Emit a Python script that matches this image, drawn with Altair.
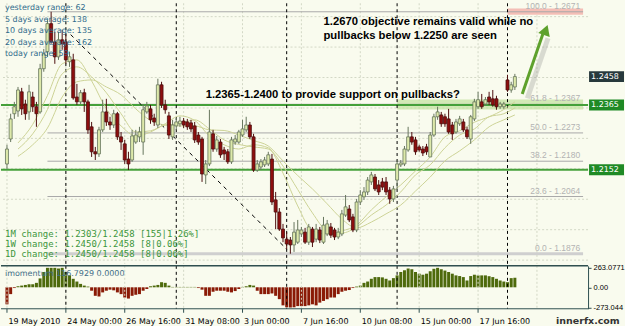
import json
import altair as alt
import pandas as pd

# ---------------- data ----------------
opens = [1.2171, 1.2253, 1.2336, 1.2345, 1.2408, 1.2368, 1.2342, 1.2391, 1.2359, 1.2342,
         1.2484, 1.2540, 1.2632, 1.2572, 1.2523, 1.2579, 1.2572, 1.2507, 1.2513, 1.2391,
         1.2375, 1.2405, 1.2375, 1.2293, 1.2211, 1.2204, 1.2283, 1.2342, 1.2309, 1.2299,
         1.2336, 1.2260, 1.2237, 1.2187, 1.2184, 1.2243, 1.2260, 1.2243, 1.2342, 1.2352,
         1.2322, 1.2299, 1.2431, 1.2365, 1.2329, 1.2260, 1.2296, 1.2303, 1.2312, 1.2309,
         1.2306, 1.2296, 1.2266, 1.2253, 1.2135, 1.2171, 1.2270, 1.2220, 1.2243, 1.2217,
         1.2211, 1.2178, 1.2243, 1.2243, 1.2266, 1.2283, 1.2299, 1.2260, 1.2151, 1.2161,
         1.2168, 1.2171, 1.2187, 1.2053, 1.2013, 1.1957, 1.1924, 1.1921, 1.1905, 1.1914,
         1.1941, 1.1947, 1.1914, 1.1957, 1.1924, 1.1954, 1.1914, 1.1941, 1.1964, 1.1954,
         1.1931, 1.1941, 1.2003, 1.2023, 1.1997, 1.1954, 1.2046, 1.2063, 1.2079, 1.2112,
         1.2128, 1.2102, 1.2112, 1.2112, 1.2085, 1.2056, 1.2118, 1.2168, 1.2171, 1.2217,
         1.2260, 1.2250, 1.2227, 1.2220, 1.2227, 1.2194, 1.2266, 1.2326, 1.2332, 1.2326,
         1.2319, 1.2299, 1.2276, 1.2303, 1.2309, 1.2283, 1.2253, 1.2319, 1.2359, 1.2375,
         1.2368, 1.2391, 1.2385, 1.2385, 1.2359, 1.2359, 1.2447, 1.2414, 1.2424]
highs = [1.2234, 1.2336, 1.2375, 1.2424, 1.2421, 1.2382, 1.2431, 1.2408, 1.2375, 1.2500,
         1.2549, 1.2645, 1.2671, 1.2605, 1.2605, 1.2612, 1.2599, 1.2540, 1.2533, 1.2434,
         1.2414, 1.2418, 1.2382, 1.2309, 1.2227, 1.2293, 1.2382, 1.2385, 1.2326, 1.2349,
         1.2342, 1.2276, 1.2250, 1.2211, 1.2283, 1.2283, 1.2293, 1.2368, 1.2375, 1.2365,
         1.2336, 1.2451, 1.2441, 1.2382, 1.2342, 1.2316, 1.2322, 1.2326, 1.2322, 1.2319,
         1.2316, 1.2309, 1.2276, 1.2260, 1.2184, 1.2349, 1.2283, 1.2263, 1.2253, 1.2227,
         1.2220, 1.2260, 1.2266, 1.2283, 1.2316, 1.2326, 1.2309, 1.2270, 1.2184, 1.2187,
         1.2194, 1.2211, 1.2204, 1.2079, 1.2026, 1.1974, 1.1947, 1.1931, 1.1980, 1.1987,
         1.1964, 1.1961, 1.1974, 1.1964, 1.1974, 1.1964, 1.1997, 1.1987, 1.1977, 1.1961,
         1.1961, 1.2020, 1.2069, 1.2036, 1.2007, 1.2056, 1.2085, 1.2095, 1.2128, 1.2145,
         1.2138, 1.2118, 1.2125, 1.2128, 1.2095, 1.2099, 1.2184, 1.2184, 1.2230, 1.2293,
         1.2276, 1.2260, 1.2234, 1.2230, 1.2237, 1.2276, 1.2336, 1.2359, 1.2342, 1.2336,
         1.2352, 1.2309, 1.2319, 1.2329, 1.2319, 1.2293, 1.2332, 1.2385, 1.2408, 1.2401,
         1.2391, 1.2408, 1.2414, 1.2395, 1.2375, 1.2375, 1.2464, 1.2441, 1.2467]
lows = [1.2155, 1.2243, 1.2319, 1.2326, 1.2332, 1.2316, 1.2316, 1.2342, 1.2293, 1.2336,
        1.2474, 1.2523, 1.2566, 1.2500, 1.2513, 1.2546, 1.2500, 1.2490, 1.2382, 1.2365,
        1.2368, 1.2342, 1.2270, 1.2194, 1.2184, 1.2194, 1.2276, 1.2296, 1.2283, 1.2289,
        1.2250, 1.2217, 1.2171, 1.2151, 1.2178, 1.2237, 1.2243, 1.2201, 1.2336, 1.2303,
        1.2296, 1.2289, 1.2355, 1.2336, 1.2253, 1.2250, 1.2283, 1.2293, 1.2289, 1.2283,
        1.2276, 1.2240, 1.2234, 1.2112, 1.2105, 1.2164, 1.2211, 1.2211, 1.2191, 1.2184,
        1.2171, 1.2171, 1.2234, 1.2237, 1.2260, 1.2276, 1.2253, 1.2145, 1.2145, 1.2151,
        1.2161, 1.2164, 1.2036, 1.1957, 1.1951, 1.1914, 1.1891, 1.1876, 1.1882, 1.1908,
        1.1931, 1.1908, 1.1905, 1.1898, 1.1914, 1.1911, 1.1908, 1.1934, 1.1928, 1.1921,
        1.1924, 1.1934, 1.1997, 1.1980, 1.1947, 1.1947, 1.2036, 1.2053, 1.2069, 1.2102,
        1.2082, 1.2069, 1.2085, 1.2069, 1.2040, 1.2046, 1.2085, 1.2161, 1.2164, 1.2211,
        1.2234, 1.2201, 1.2211, 1.2197, 1.2201, 1.2194, 1.2260, 1.2316, 1.2293, 1.2293,
        1.2270, 1.2250, 1.2270, 1.2296, 1.2276, 1.2253, 1.2237, 1.2312, 1.2352, 1.2352,
        1.2362, 1.2365, 1.2359, 1.2349, 1.2352, 1.2352, 1.2408, 1.2405, 1.2414]
closes = [1.2220, 1.2319, 1.2359, 1.2414, 1.2352, 1.2336, 1.2408, 1.2359, 1.2336, 1.2484,
          1.2533, 1.2632, 1.2572, 1.2523, 1.2579, 1.2566, 1.2513, 1.2523, 1.2388, 1.2375,
          1.2405, 1.2375, 1.2283, 1.2211, 1.2204, 1.2283, 1.2342, 1.2309, 1.2299, 1.2336,
          1.2260, 1.2243, 1.2184, 1.2171, 1.2263, 1.2266, 1.2276, 1.2349, 1.2362, 1.2316,
          1.2309, 1.2431, 1.2365, 1.2349, 1.2266, 1.2299, 1.2309, 1.2312, 1.2299, 1.2293,
          1.2286, 1.2250, 1.2243, 1.2138, 1.2171, 1.2276, 1.2220, 1.2250, 1.2201, 1.2204,
          1.2178, 1.2250, 1.2253, 1.2276, 1.2286, 1.2299, 1.2260, 1.2151, 1.2171, 1.2178,
          1.2184, 1.2201, 1.2046, 1.2013, 1.1957, 1.1928, 1.1908, 1.1905, 1.1947, 1.1954,
          1.1954, 1.1914, 1.1964, 1.1914, 1.1957, 1.1921, 1.1970, 1.1974, 1.1937, 1.1931,
          1.1947, 1.2007, 1.2030, 1.1987, 1.1954, 1.2046, 1.2069, 1.2079, 1.2118, 1.2135,
          1.2089, 1.2079, 1.2095, 1.2079, 1.2056, 1.2089, 1.2171, 1.2174, 1.2220, 1.2260,
          1.2243, 1.2211, 1.2217, 1.2207, 1.2211, 1.2266, 1.2326, 1.2342, 1.2303, 1.2303,
          1.2276, 1.2270, 1.2309, 1.2319, 1.2283, 1.2260, 1.2326, 1.2375, 1.2382, 1.2359,
          1.2382, 1.2375, 1.2365, 1.2359, 1.2368, 1.2368, 1.2414, 1.2431, 1.2458]
momentum = [-230, -92, -10, 14, 23, 32, 41, 41, 60, 120,
            207, 263, 263, 263, 254, 263, 207, 161, 115, 78,
            46, 23, 10, -46, -115, -124, -69, -46, -32, -41,
            -69, -92, -138, -152, -115, -101, -92, -46, -23, 14,
            23, 32, 69, 60, 23, 5, 5, 5, 5, 5,
            5, 5, -10, -32, -115, -115, -60, -46, -46, -46,
            -60, -69, -51, -23, 5, 14, 32, 23, -46, -92,
            -92, -92, -83, -115, -160, -244, -270, -273, -270, -254,
            -254, -254, -244, -230, -244, -207, -184, -161, -138, -138,
            -92, -60, -46, -37, -10, 10, 23, 60, 78, 115,
            138, 138, 134, 115, 92, 124, 161, 207, 230, 254,
            244, 207, 184, 170, 184, 217, 250, 263, 244, 226,
            207, 184, 161, 152, 138, 92, 152, 170, 161, 161,
            161, 150, 138, 115, 92, 78, 69, 124, 129]
ma_idx = [3, 7, 11, 15, 19, 23, 27, 31, 35, 39, 43, 47, 51, 55, 59, 63, 67, 71, 75, 79,
          83, 87, 91, 95, 99, 103, 107, 111, 115, 119, 123, 127, 131, 135, 138]
ma_fast = [1.2240, 1.2301, 1.2396, 1.2500, 1.2513, 1.2444, 1.2352, 1.2296, 1.2263, 1.2276,
           1.2303, 1.2329, 1.2314, 1.2263, 1.2234, 1.2220, 1.2234, 1.2224, 1.2141, 1.2033,
           1.1951, 1.1941, 1.1951, 1.1970, 1.2020, 1.2063, 1.2102, 1.2148, 1.2194, 1.2260,
           1.2280, 1.2308, 1.2326, 1.2350, 1.2375]
ma_mid = [1.2220, 1.2270, 1.2350, 1.2467, 1.2490, 1.2457, 1.2405, 1.2336, 1.2276, 1.2280,
          1.2299, 1.2303, 1.2316, 1.2286, 1.2250, 1.2235, 1.2227, 1.2220, 1.2164, 1.2087,
          1.2010, 1.1952, 1.1944, 1.1964, 1.2003, 1.2036, 1.2079, 1.2135, 1.2168, 1.2224,
          1.2266, 1.2286, 1.2326, 1.2336, 1.2355]
ma_slow = [1.2196, 1.2234, 1.2289, 1.2391, 1.2441, 1.2447, 1.2424, 1.2398, 1.2352, 1.2314,
           1.2299, 1.2296, 1.2296, 1.2283, 1.2281, 1.2266, 1.2248, 1.2230, 1.2181, 1.2133,
           1.2089, 1.2040, 1.1990, 1.1961, 1.1980, 1.2007, 1.2036, 1.2082, 1.2128, 1.2181,
           1.2214, 1.2250, 1.2293, 1.2316, 1.2332]

tick_prices = [1.2655, 1.2555, 1.2455, 1.2355, 1.2255, 1.2155, 1.2055, 1.1955, 1.1855]
time_tick_idx = [0, 16, 32, 48, 64, 80, 96, 112, 128]
time_tick_labels = ["19 May 2010", "24 May 00:00", "26 May 16:00", "31 May 08:00", "3 Jun 00:00",
                    "7 Jun 16:00", "10 Jun 08:00", "15 Jun 00:00", "17 Jun 16:00"]
grid_idx = [0, 16, 32, 48, 64, 80, 96, 112, 128, 144]
week_idx = [16, 46, 76, 106, 136]
fib_pct = ["100.0", "61.8", "50.0", "38.2", "23.6", "0.0"]
fib_levels = [1.2671, 1.2367, 1.2273, 1.2180, 1.2064, 1.1876]
fib_start = 11
support_levels = [1.2365, 1.2152]
current_price = 1.2458
trend_idx = [17.3, 76.0]
trend_price = [1.2596, 1.1891]
arrow_idx = [140.0, 145.6]
arrow_price = [1.2401, 1.2598]
target_zone = [1.2661, 1.2682]
support_zone = [1.2350, 1.2383]
target_zone_start = 136
support_zone_start = 106
mom_ticks = [263.0771, 0.0, -273.044]
mom_tick_labels = ["263.0771", "0.00", "-273.044"]
info_lines = ["yesterday range: 62", "5 days average: 138", "10 days average: 135",
              "20 days average: 162", "today range: 59"]
change_lines = ["1M change: 1.2303/1.2458 [155|1.26%]",
                "1W change: 1.2450/1.2458 [8|0.06%]",
                "1D change: 1.2450/1.2458 [8|0.06%]"]
note_lines = ["1.2670 objective remains valid while no", "pullbacks below 1.2250 are seen"]
note_support = "1.2365-1.2400 to provide support on pullbacks?"
mom_title = "imomentum 116.7929 0.0000"
brand = "innerfx.com"

# ---------------- styles ----------------
FONT = "DejaVu Sans"
BG = "#f9fbee"
GRID = "#d3d8c6"
UP_FILL, UP_LINE = "#dde9aa", "#66755c"
DN_FILL, DN_LINE = "#8e0e0e", "#4d0f0f"
MA_COL = "#cdd397"
GREEN = "#45a03a"
FIB = "#a9a9a9"
DARK = "#2f4f4f"

X0, X1 = -0.267, 156.53
xs = alt.Scale(domain=[X0, X1], nice=False, zero=False)
ys = alt.Scale(domain=[1.18428, 1.2699], nice=False, zero=False)
ms = alt.Scale(domain=[-290, 290], nice=False, zero=False)

candles = pd.DataFrame({"i": list(range(len(opens))), "open": opens, "high": highs,
                        "low": lows, "close": closes})
mom_df = pd.DataFrame({"i": list(range(len(momentum))), "v": momentum})
ma_df = pd.DataFrame({
    "i": ma_idx * 3,
    "p": ma_fast + ma_mid + ma_slow,
    "ma": ["fast"] * len(ma_idx) + ["mid"] * len(ma_idx) + ["slow"] * len(ma_idx),
})
fib_df = pd.DataFrame({"lvl": fib_levels, "start": [fib_start] * len(fib_levels),
                       "end": [X1] * len(fib_levels), "lx": [X1 - 0.8] * len(fib_levels),
                       "lbl": [f"{n} - {v:.4f}" for n, v in zip(fib_pct, fib_levels)]})
time_df = pd.DataFrame({"i": time_tick_idx, "lbl": time_tick_labels})


def xq(f, axis=None):
    return alt.X(f, type="quantitative", scale=xs, axis=axis)


def yq(f, axis=None):
    return alt.Y(f, type="quantitative", scale=ys, axis=axis)


price_axis = alt.Axis(orient="right", values=tick_prices, format=".4f", title=None, grid=False,
                      labelFont=FONT, labelFontSize=8, labelColor="#000", tickSize=4,
                      tickColor=DARK, domainColor=DARK, labelPadding=3, labelOverlap=False,
                      labelFlush=False)

hgrid = alt.Chart(pd.DataFrame({"p": tick_prices})).mark_rule(
    color=GRID, strokeDash=[2, 2], strokeWidth=1).encode(y=yq("p", price_axis))
vgrid = alt.Chart(pd.DataFrame({"i": grid_idx})).mark_rule(
    color=GRID, strokeDash=[2, 2], strokeWidth=1).encode(x=xq("i"))

zone_t = alt.Chart(pd.DataFrame({"a": [target_zone_start], "b": [X1],
                                 "lo": [target_zone[0]], "hi": [target_zone[1]]})).mark_rect(
    color="#f3b3ab", opacity=0.85).encode(x=xq("a"), x2="b", y=yq("lo"), y2="hi")
zone_s = alt.Chart(pd.DataFrame({"a": [support_zone_start], "b": [X1],
                                 "lo": [support_zone[0]], "hi": [support_zone[1]]})).mark_rect(
    color="#c4e3a2", opacity=0.75).encode(x=xq("a"), x2="b", y=yq("lo"), y2="hi")

fib_main = alt.Chart(fib_df).transform_filter("datum.lvl > 1.19").mark_rule(
    color=FIB, strokeWidth=1).encode(x=xq("start"), x2="end", y=yq("lvl"))
fib_zero = alt.Chart(fib_df).transform_filter("datum.lvl < 1.19").mark_rule(
    color="#cfcfcf", strokeWidth=3).encode(x=xq("start"), x2="end", y=yq("lvl"))
fib_text = alt.Chart(fib_df).mark_text(
    align="right", baseline="middle", dy=-6, font="Liberation Sans", fontSize=8.5,
    color="#b3b3b3").encode(x=xq("lx"), y=yq("lvl"), text="lbl:N")

support = alt.Chart(pd.DataFrame({"lvl": support_levels})).mark_rule(
    color=GREEN, strokeWidth=2).encode(y=yq("lvl"))

weeks = alt.Chart(pd.DataFrame({"i": week_idx})).mark_rule(
    color="#000", strokeDash=[3, 3], strokeWidth=1).encode(x=xq("i"))

trend = alt.Chart(pd.DataFrame({"i": trend_idx, "p": trend_price})).mark_line(
    color="#000", strokeDash=[4, 4], strokeWidth=1).encode(x=xq("i"), y=yq("p"))

mas = alt.Chart(ma_df).mark_line(color=MA_COL, strokeWidth=1, interpolate="monotone").encode(
    x=xq("i"), y=yq("p"), detail="ma:N")

wicks = alt.Chart(candles).mark_rule(strokeWidth=1).encode(
    x=xq("i"), y=yq("low"), y2="high",
    color=alt.when(alt.datum.close >= alt.datum.open).then(alt.value(UP_LINE)).otherwise(alt.value(DN_LINE)))
bodies = alt.Chart(candles).mark_bar(size=3, strokeWidth=0.8).encode(
    x=xq("i"), y=yq("open"), y2="close",
    fill=alt.when(alt.datum.close >= alt.datum.open).then(alt.value(UP_FILL)).otherwise(alt.value(DN_FILL)),
    stroke=alt.when(alt.datum.close >= alt.datum.open).then(alt.value(UP_LINE)).otherwise(alt.value(DN_LINE)))

shadow = alt.Chart(pd.DataFrame({"i": [a + 1.4 for a in arrow_idx],
                                 "p": [b - 0.0014 for b in arrow_price]})).mark_line(
    color="#777777", opacity=0.25, strokeWidth=5).encode(x=xq("i"), y=yq("p"))
arrow = alt.Chart(pd.DataFrame({"i": arrow_idx, "p": arrow_price})).mark_line(
    color="#5ea12c", strokeWidth=3).encode(x=xq("i"), y=yq("p"))
arrow_head = alt.Chart(pd.DataFrame({"i": [arrow_idx[1] + 0.8], "p": [arrow_price[1] + 0.0013]})).mark_point(
    shape="triangle-up", filled=True, size=150, angle=20, color="#5ea12c", opacity=1).encode(
    x=xq("i"), y=yq("p"))

box_df = pd.DataFrame({"p": [current_price] + support_levels,
                       "kind": ["cur"] + ["sup"] * len(support_levels)})
boxes = alt.Chart(box_df).transform_calculate(
    top="datum.p + 0.0018", bot="datum.p - 0.0018").mark_rect().encode(
    x=alt.value(589), x2=alt.value(624), y=yq("top:Q"), y2="bot:Q",
    color=alt.when(alt.datum.kind == "cur").then(alt.value("#27393c")).otherwise(alt.value("#1f8a25")))
box_text = alt.Chart(box_df).transform_calculate(lbl="format(datum.p, '.4f')").mark_text(
    align="left", baseline="middle", font=FONT, fontSize=8, color="white").encode(
    x=alt.value(591), y=yq("p"), text="lbl:N")

note_style = dict(align="left", baseline="middle", font="Liberation Sans", fontSize=11.3,
                  fontWeight="bold", color="#000")
note1 = alt.Chart(pd.DataFrame({"t": [note_lines[0]]})).mark_text(**note_style).encode(
    x=alt.value(323), y=alt.value(19), text="t:N")
note2 = alt.Chart(pd.DataFrame({"t": [note_lines[1]]})).mark_text(**note_style).encode(
    x=alt.value(323), y=alt.value(33), text="t:N")
note3 = alt.Chart(pd.DataFrame({"t": [note_support]})).mark_text(**note_style).encode(
    x=alt.value(205), y=alt.value(92), text="t:N")

info = alt.Chart(pd.DataFrame({"t": ["\n".join(info_lines)]})).mark_text(
    align="left", baseline="top", lineBreak="\n", lineHeight=11.5, font=FONT, fontSize=8,
    color="#2f6b8c").encode(x=alt.value(4), y=alt.value(1), text="t:N")
changes = alt.Chart(pd.DataFrame({"t": ["\n".join(change_lines)]})).mark_text(
    align="left", baseline="top", lineBreak="\n", lineHeight=10, font="DejaVu Sans Mono",
    fontSize=9, color="#3b963b").encode(x=alt.value(4), y=alt.value(227), text="t:N")

main = alt.layer(
    hgrid, vgrid, zone_t, zone_s, fib_main, fib_zero, fib_text, support, weeks, trend, mas,
    wicks, bodies, shadow, arrow, arrow_head, boxes, box_text, note1, note2, note3, info, changes,
).properties(width=588, height=261)

# ---------------- momentum panel ----------------
mom_expr = f"{json.dumps(mom_tick_labels)}[indexof({json.dumps(mom_ticks)}, datum.value)]"
mom_axis = alt.Axis(orient="right", values=mom_ticks, labelExpr=mom_expr, title=None, grid=False,
                    labelFont="Liberation Sans", labelFontSize=7.5, labelColor="#000", tickSize=3,
                    tickColor=DARK, domainColor=DARK, labelPadding=2, labelFlush=False,
                    labelOverlap=False)

MH = 43
m_bars = alt.Chart(mom_df).mark_bar(size=3).encode(
    x=xq("i"), y=alt.Y("v", type="quantitative", scale=ms, axis=mom_axis), y2=alt.datum(0),
    color=alt.when(alt.datum.v >= 0).then(alt.value("#4e6a0c")).otherwise(alt.value("#8a1a06")))
m_vgrid = alt.Chart(pd.DataFrame({"i": grid_idx})).mark_rule(
    color=GRID, strokeDash=[2, 2], strokeWidth=1).encode(x=xq("i"))
m_weeks = alt.Chart(pd.DataFrame({"i": week_idx})).mark_rule(
    color="#000", strokeDash=[3, 3], strokeWidth=1).encode(x=xq("i"))
m_border = alt.Chart(pd.DataFrame({"t": [0]})).mark_rule(color=DARK, strokeWidth=1.5).encode(
    y=alt.value(0))
m_domain = alt.Chart(pd.DataFrame({"t": [0]})).mark_rule(color=DARK, strokeWidth=1).encode(
    y=alt.value(MH))
m_ticks = alt.Chart(time_df).mark_rule(color=DARK, strokeWidth=1).encode(
    x=xq("i"), y=alt.value(MH), y2=alt.value(MH + 4))
m_tlabels = alt.Chart(time_df).mark_text(
    align="left", baseline="middle", dx=1.5, font=FONT, fontSize=8, color="#000").encode(
    x=xq("i"), y=alt.value(MH + 13), text="lbl:N")
m_title = alt.Chart(pd.DataFrame({"t": [mom_title]})).mark_text(
    align="left", baseline="middle", font=FONT, fontSize=8, color="#3f6e87").encode(
    x=alt.value(4), y=alt.value(8), text="t:N")
m_brand = alt.Chart(pd.DataFrame({"t": [brand]})).mark_text(
    align="left", baseline="middle", font=FONT, fontSize=9.5, fontWeight="bold",
    color="#333333").encode(x=alt.value(556), y=alt.value(MH + 12), text="t:N")

mom = alt.layer(m_bars, m_vgrid, m_weeks, m_border, m_domain, m_ticks, m_tlabels, m_title,
                m_brand).properties(width=588, height=MH)

chart = alt.vconcat(main, mom, spacing=2, bounds="flush").configure(
    background=BG, padding={"left": 0, "top": 1, "right": 0, "bottom": 0}
).configure_view(stroke=None)

chart.save("out.html", embed_options={"renderer": "svg", "actions": False})
